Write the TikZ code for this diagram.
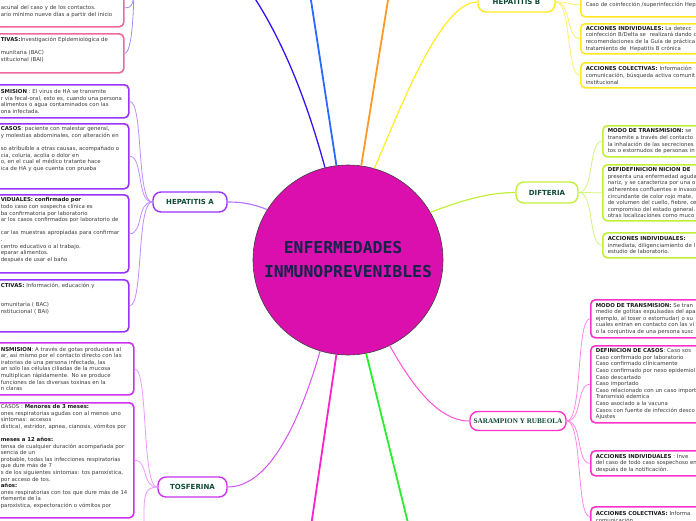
\documentclass[tikz,border=0pt]{standalone}
\usepackage{fontspec}
\setmainfont{DejaVu Sans}
\newfontfamily\monofont{DejaVu Sans Mono}
\newfontfamily\titleserif{Liberation Serif}
\definecolor{coremag}{HTML}{DB0FAE}
\definecolor{coretext}{HTML}{14244A}
\definecolor{titlegreen}{HTML}{0F4A33}
\definecolor{bodygray}{HTML}{3C3C3C}
\definecolor{hepacol}{HTML}{9A33FF}
\definecolor{hepaline}{HTML}{C08CFF}
\definecolor{pinkcol}{HTML}{EE6A9C}
\definecolor{periline}{HTML}{9C8CFF}
\definecolor{toscol}{HTML}{CC33EE}
\definecolor{tosline}{HTML}{EC99FF}
\definecolor{hepbcol}{HTML}{FFE81F}
\definecolor{hepbline}{HTML}{FFEE70}
\definecolor{difcol}{HTML}{C2F03A}
\definecolor{difline}{HTML}{CFF57F}
\definecolor{sarcol}{HTML}{FF33CC}
\definecolor{sarline}{HTML}{FF88E8}
\definecolor{navyline}{HTML}{3A12EE}
\definecolor{blueline}{HTML}{2A6BFF}
\definecolor{orangeline}{HTML}{FF9A26}
\definecolor{yellowline}{HTML}{FFEE22}
\definecolor{greenline}{HTML}{2BEE2B}
\definecolor{pinkline}{HTML}{FF22CC}
\newcommand{\keyw}[1]{\textbf{\color{black!90}#1}}
\begin{document}
\begin{tikzpicture}[x=1pt,y=-1pt,
  branch/.style={draw,fill=white,rounded corners=8pt,line width=1.4pt,minimum height=20pt,
    inner sep=0pt,text=titlegreen,font=\fontsize{7}{8}\selectfont\bfseries},
  leaf/.style={draw,fill=white,rounded corners=4.5pt,line width=1.6pt,align=left,anchor=north west,
    inner xsep=5pt,inner ysep=0pt,text=bodygray,font=\fontsize{5.4}{6.6}\selectfont},
  link/.style={line width=0.8pt}]
  \useasboundingbox (0,0) rectangle (696,520);
  \clip (0,0) rectangle (696,520);
  \fill[white] (0,0) rectangle (696,520);

  \node[circle,fill=coremag,draw=black!75,line width=0.6pt,minimum size=190pt,inner sep=0pt,
    align=center,text=coretext,font=\fontsize{16.4}{24}\monofont\bfseries] (core) at (348,260)
    {ENFERMEDADES\kern9.9pt\\INMUNOPREVENIBLES};

  \node[branch,minimum width=74pt,draw=hepacol] (hepA) at (190,202) {HEPATITIS A};
  \node[branch,minimum width=69pt,draw=toscol] (tosf) at (192.5,487) {TOSFERINA};
  \node[branch,minimum width=77pt,draw=hepbcol] (hepB) at (516.5,2) {HEPATITIS B};
  \node[branch,minimum width=62pt,minimum height=21pt,draw=difcol] (dif) at (547,192.5) {DIFTERIA};
  \node[branch,minimum width=96pt,minimum height=19pt,draw=sarcol,
    font=\fontsize{7.2}{8}\titleserif\bfseries] (sar) at (518,421) {SARAMPION Y RUBEOLA};

  \node[leaf,draw=pinkcol,text width=118pt,minimum height=38pt] (tl1) at (-5,-12)
    {\strut\\acunal del caso y de los contactos.\\ario mínimo nueve días a partir del inicio};
  \node[leaf,draw=pinkcol,text width=118pt,minimum height=39pt] (tl2) at (-5,33)
    {\keyw{TIVAS:}Investigación Epidemiológica de\\\strut\\munitaria (BAC)\\stitucional (BAI)\\\strut};

  \node[leaf,draw=hepacol,text width=123pt,minimum height=33pt] (ha1) at (-5,84)
    {\keyw{SMISION} : El virus de HA se transmite\\r vía fecal-oral, esto es, cuando una persona\\
     alimentos o agua contaminados con las\\ona infectada.};
  \node[leaf,draw=hepacol,text width=123pt,minimum height=65pt] (ha2) at (-5,123)
    {\keyw{CASOS}: paciente con malestar general,\\y molestias abdominales, con alteración en\\\strut\\
     so atribuible a otras causas, acompañado o\\cia, coluria, acolia o dolor en\\
     o, en el cual el médico tratante hace\\ica de HA y que cuenta con prueba\\\strut\\\strut};
  \node[leaf,draw=hepacol,text width=123pt,minimum height=78pt] (ha3) at (-5,194)
    {\keyw{VIDUALES: confirmado por}\\todo caso con sospecha clínica es\\ba confirmatoria por laboratorio\\
     ar los casos confirmados por laboratorio de\\\strut\\car las muestras apropiadas para confirmar\\.\\
     centro educativo o al trabajo.\\eparar alimentos.\\después de usar el baño\\\strut};
  \node[leaf,draw=hepacol,text width=123pt,minimum height=52pt] (ha4) at (-5,279)
    {\keyw{CTIVAS:} Información, educación y\\\strut\\\strut\\omunitaria ( BAC)\\nstitucional ( BAI)\\\strut\\\strut};

  \node[leaf,draw=toscol,text width=128pt,minimum height=52pt] (tf1) at (-5,342)
    {\keyw{NSMISION}: A través de gotas producidas al\\ar, así mismo por el contacto directo con las\\
     iratorias de una persona infectada, las\\an solo las células ciliadas de la mucosa\\
     multiplican rápidamente. No se produce\\funciones de las diversas toxinas en la\\n claras};
  \node[leaf,draw=toscol,text width=128pt,minimum height=115pt] (tf2) at (-5,402)
    {CASOS : \keyw{Menores de 3 meses:}\\ones respiratorias agudas con al menos uno\\síntomas: accesos\\
     dística), estridor, apnea, cianosis, vómitos por\\\strut\\\keyw{meses a 12 años:}\\
     tensa de cualquier duración acompañada por\\sencia de un\\
     probable, todas las infecciones respiratorias\\que dure más de 7\\
     s de los siguientes síntomas: tos paroxística,\\por acceso de tos.\\\keyw{años:}\\
     ones respiratorias con tos que dure más de 14\\rtemente de la\\
     paroxística, expectoración o vómitos por\\\strut};

  \node[leaf,draw=hepbcol,text width=150pt,minimum height=24pt] (hb1) at (580,-8)
    {Caso de coinfección /superinfección Hep};
  \node[leaf,draw=hepbcol,text width=150pt,minimum height=30pt] (hb2) at (580,23)
    {\keyw{ACCIONES INDIVIDUALES:} La detecc\\coinfección B/Delta se\ \ realizará dando c\\
     recomendaciones de la Guía de práctica\\tratamiento de\ \ Hepatitis B crónica};
  \node[leaf,draw=hepbcol,text width=150pt,minimum height=25pt] (hb3) at (580,62)
    {\keyw{ACCIONES COLECTIVAS:} Información\\comunicación, búsqueda activa comunit\\institucional};

  \node[leaf,draw=difcol,text width=150pt,minimum height=31pt] (df1) at (602,125)
    {\keyw{MODO DE TRANSMISION:} se\\transmite a través del contacto\\la inhalación de las secreciones\\
     tos o estornudos de personas in};
  \node[leaf,draw=difcol,text width=150pt,minimum height=56pt] (df2) at (602,164)
    {\keyw{DEFIDEFINICION NICION DE}\\presenta una enfermedad aguda\\nariz, y se caracteriza por una o\\
     adherentes confluentes e invaso\\circundante de color rojo mate,\\de volumen del cuello, fiebre, ce\\
     compromiso del estado general.\\otras localizaciones como muco};
  \node[leaf,draw=difcol,text width=150pt,minimum height=25pt] (df3) at (602,232)
    {\keyw{ACCIONES INDIVIDUALES:}\\inmediata, diligenciamiento de l\\estudio de laboratorio.};

  \node[leaf,draw=sarcol,text width=150pt,minimum height=38pt] (sr1) at (590,299)
    {\keyw{MODO DE TRANSMISION:} Se tran\\medio de gotitas expulsadas del apa\\
     ejemplo, al toser o estornudar) o su\\cuales entran en contacto con las ví\\
     o la conjuntiva de una persona susc};
  \node[leaf,draw=sarcol,text width=150pt,minimum height=77pt] (sr2) at (590,345)
    {\keyw{DEFINICION DE CASOS}: Caso sos\\Caso confirmado por laboratorio\\Caso confirmado clínicamente\\
     Caso confirmado por nexo epidemiol\\Caso descartado\\Caso importado\\
     Caso relacionado con un caso import\\Transmisió edemica\\Caso asociado a la vacuna\\
     Casos con fuente de infección desco\\Ajustes};
  \node[leaf,draw=sarcol,text width=150pt,minimum height=25pt] (sr3) at (590,450)
    {\keyw{ACCIONES INDIVIDUALES} : Inve\\del caso de todo caso sospechoso en\\después de la notificación.};
  \node[leaf,draw=sarcol,text width=150pt,minimum height=20pt] (sr4) at (590,506)
    {\keyw{ACCIONES COLECTIVAS:} Informa\\comunicación};

  \coordinate (navyEnd) at (254,-3);
  \coordinate (blueEnd) at (310.5,-3);
  \coordinate (orangeEnd) at (388.5,-3);
  \coordinate (pinkEnd) at (311.5,523);
  \coordinate (greenEnd) at (408,523);
  \coordinate (tlHub) at (134,-20);
  \coordinate (tosDown) at (144,523);

  \draw[navyline,line width=1.3pt] (core.104) .. controls (306,98) and (283,42) .. (navyEnd);
  \draw[blueline,line width=1.8pt] (core.97) -- (blueEnd);
  \draw[orangeline,line width=1.8pt] (core.82) -- (orangeEnd);
  \draw[yellowline,line width=1.2pt] (core.74) .. controls (400,110) and (440,2) .. (hepB.west);
  \draw[hepacol!70,line width=1.1pt] (core.148) .. controls (250,203) and (240,202) .. (hepA.east);
  \draw[difcol,line width=1.2pt] (core.30) .. controls (462,200) and (490,192.5) .. (dif.west);
  \draw[sarcol!85,line width=1pt] (core.-64) .. controls (420,400) and (445,421) .. (sar.west);
  \draw[greenline,line width=1.8pt] (core.-79) -- (greenEnd);
  \draw[pinkline,line width=1.8pt] (core.-97) -- (pinkEnd);
  \draw[toscol!85,line width=1pt] (core.-107) .. controls (300,420) and (270,487) .. (tosf.east);

  \foreach \n in {ha1,ha2,ha3,ha4}
    \draw[link,hepaline] (hepA.west) .. controls +(-16,0) and +(14,0) .. (\n.east);
  \foreach \n in {tl1,tl2}
    \draw[link,periline] (\n.east) .. controls +(8,0) and +(0,25) .. (tlHub);
  \foreach \n in {tf1,tf2}
    \draw[link,tosline] (tosf.west) .. controls +(-16,0) and +(14,0) .. (\n.east);
  \draw[link,tosline] (tosf.west) .. controls +(-14,0) and +(0,-25) .. (tosDown);
  \foreach \n in {hb1,hb2,hb3}
    \draw[link,hepbline] (hepB.east) .. controls +(16,0) and +(-14,0) .. (\n.west);
  \foreach \n in {df1,df2,df3}
    \draw[link,difline] (dif.east) .. controls +(16,0) and +(-14,0) .. (\n.west);
  \foreach \n in {sr1,sr2,sr3,sr4}
    \draw[link,sarline] (sar.east) .. controls +(16,0) and +(-14,0) .. (\n.west);
\end{tikzpicture}
\end{document}
